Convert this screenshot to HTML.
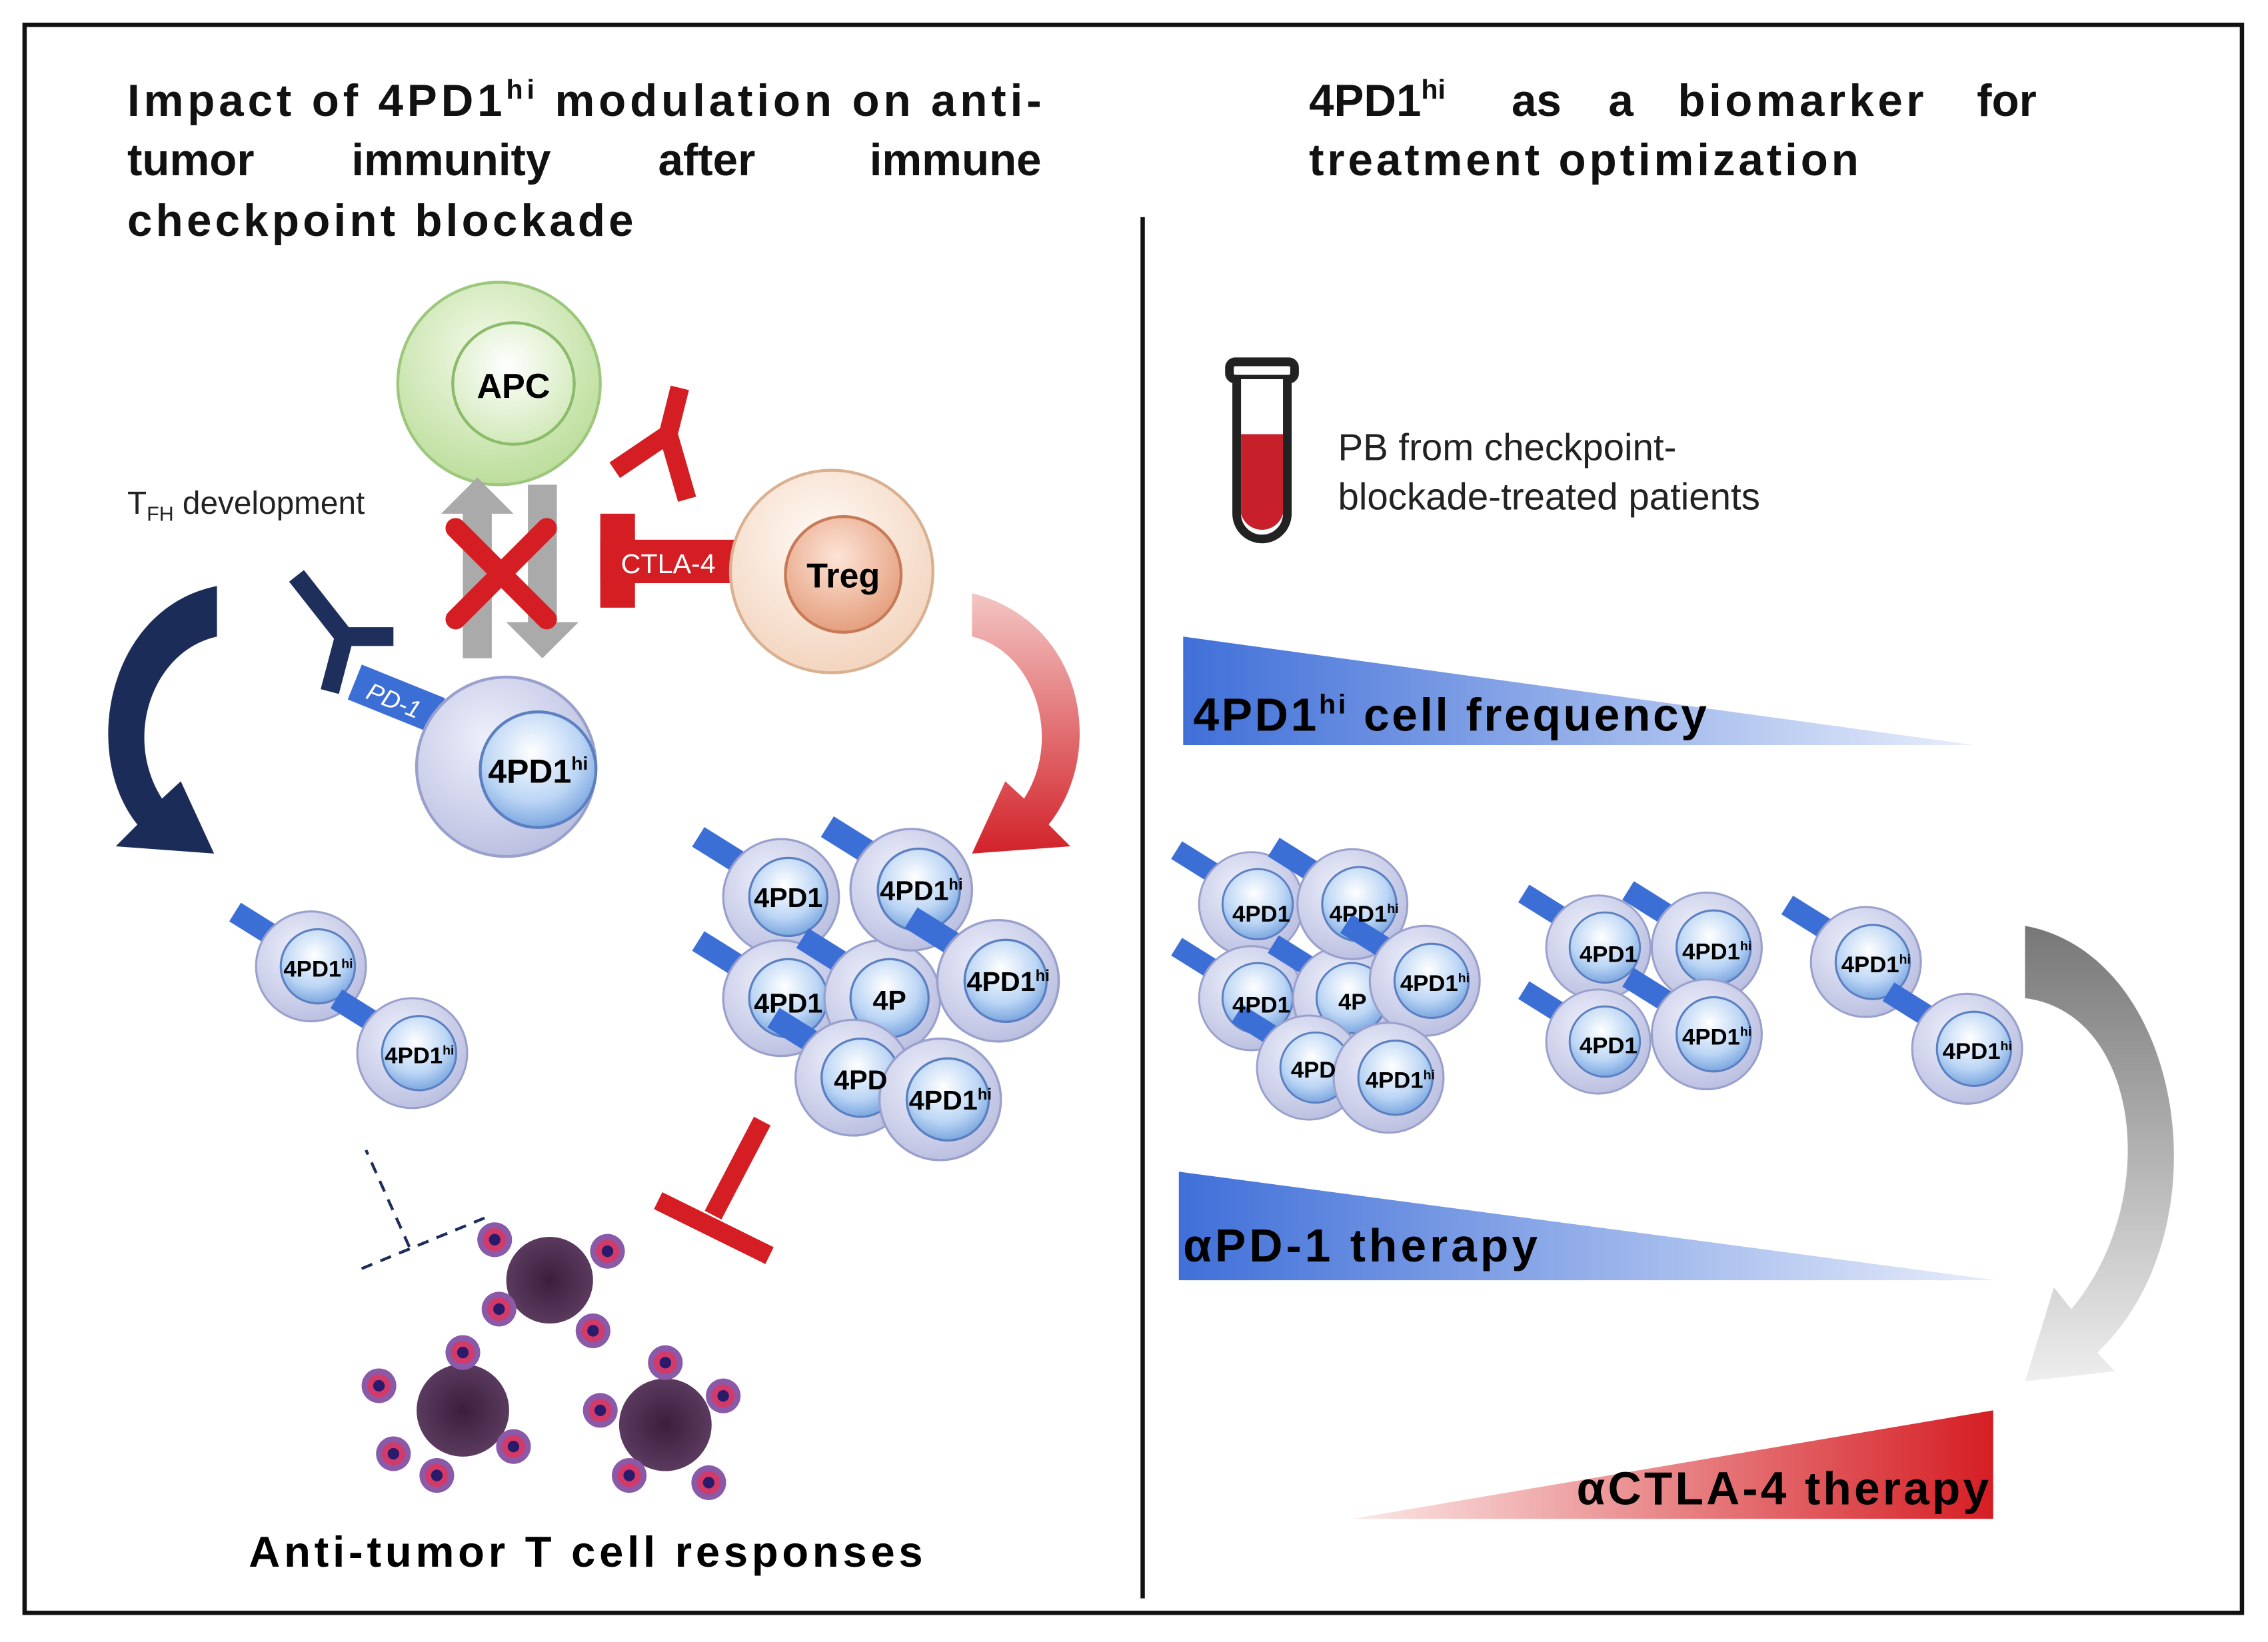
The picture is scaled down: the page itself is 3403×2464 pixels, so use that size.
<!DOCTYPE html>
<html><head><meta charset="utf-8"><style>
html,body{margin:0;padding:0;background:#fff}
svg{display:block}
text{font-family:"Liberation Sans",sans-serif}
</style></head><body>
<svg width="3403" height="2464" viewBox="0 0 1568 1135" xmlns="http://www.w3.org/2000/svg">
<defs>
<radialGradient id="gOut" cx="40%" cy="35%" r="70%"><stop offset="0" stop-color="#eef0fb"/><stop offset="1" stop-color="#b9bee0"/></radialGradient>
<radialGradient id="gIn" cx="45%" cy="35%" r="70%"><stop offset="0" stop-color="#ffffff"/><stop offset="0.6" stop-color="#bcd6f5"/><stop offset="1" stop-color="#6f9edc"/></radialGradient>
<radialGradient id="gApc" cx="45%" cy="35%" r="70%"><stop offset="0" stop-color="#f4faea"/><stop offset="1" stop-color="#b8dc96"/></radialGradient>
<radialGradient id="gApcIn" cx="45%" cy="35%" r="70%"><stop offset="0" stop-color="#ffffff"/><stop offset="1" stop-color="#cfe8b6"/></radialGradient>
<radialGradient id="gTreg" cx="45%" cy="35%" r="70%"><stop offset="0" stop-color="#fffaf5"/><stop offset="1" stop-color="#f2d2bb"/></radialGradient>
<radialGradient id="gTregIn" cx="45%" cy="35%" r="70%"><stop offset="0" stop-color="#fde4d6"/><stop offset="1" stop-color="#e39a78"/></radialGradient>
<linearGradient id="gBlue" x1="0" x2="1"><stop offset="0" stop-color="#3f6fd8"/><stop offset="1" stop-color="#e8eefb"/></linearGradient>
<linearGradient id="gRed" x1="0" x2="1"><stop offset="0" stop-color="#fbe9e7"/><stop offset="1" stop-color="#d51e24"/></linearGradient>
<linearGradient id="gRedArr" x1="0" x2="0" y1="0" y2="1"><stop offset="0" stop-color="#f3c6c3"/><stop offset="1" stop-color="#d2222a"/></linearGradient>
<linearGradient id="gGray" x1="0" x2="0" y1="0" y2="1"><stop offset="0" stop-color="#777"/><stop offset="1" stop-color="#eee"/></linearGradient>
<radialGradient id="gTum" cx="50%" cy="50%" r="50%"><stop offset="0" stop-color="#3a1f3c"/><stop offset="1" stop-color="#5a3a5e"/></radialGradient>
<g id="cell"><circle r="40" fill="url(#gOut)" stroke="#9aa0cc" stroke-width="1.5"/><circle cx="5" r="27" fill="url(#gIn)" stroke="#5b7fc0" stroke-width="1.5"/></g>
<g id="tab"><rect x="-18" y="-8" width="36" height="16" fill="#3b6fd6" transform="rotate(32)"/></g>
<g id="tcell"><circle r="12" fill="#8a5aa8"/><circle r="8" fill="#d23a6a"/><circle r="4" fill="#2a1a6a"/></g>
</defs>
<rect x="17" y="17" width="1533" height="1098" fill="#fff" stroke="#111" stroke-width="3"/>
<line x1="790" y1="150" x2="790" y2="1105" stroke="#111" stroke-width="3"/>

<g font-weight="bold" font-size="31" fill="#111">
<text x="88" y="80" textLength="632" lengthAdjust="spacing">Impact of 4PD1<tspan font-size="19" dy="-12">hi</tspan><tspan dy="12"> modulation on anti-</tspan></text>
<text x="88" y="121">tumor</text><text x="243" y="121">immunity</text><text x="455" y="121">after</text><text x="720" y="121" text-anchor="end">immune</text>
<text x="88" y="163" textLength="350" lengthAdjust="spacing">checkpoint blockade</text>
<text x="905" y="80">4PD1<tspan font-size="19" dy="-12">hi</tspan></text><text x="1045" y="80">as</text><text x="1112" y="80">a</text><text x="1160" y="80" textLength="170" lengthAdjust="spacing">biomarker</text><text x="1408" y="80" text-anchor="end">for</text>
<text x="905" y="121" textLength="380" lengthAdjust="spacing">treatment optimization</text>
</g>

<!-- APC -->
<circle cx="345" cy="265" r="70" fill="url(#gApc)" stroke="#9cc77c" stroke-width="2"/>
<circle cx="355" cy="265" r="42" fill="url(#gApcIn)" stroke="#8cbb6a" stroke-width="2"/>
<text x="355" y="275" font-size="24" font-weight="bold" text-anchor="middle">APC</text>
<polygon points="330,330 305,355 320,355 320,455 340,455 340,355 355,355" fill="#aaa"/>
<polygon points="375,455 350,430 365,430 365,335 385,335 385,430 400,430" fill="#aaa"/>
<g stroke="#d51e24" stroke-width="14" stroke-linecap="round"><line x1="315" y1="365" x2="378" y2="428"/><line x1="378" y1="365" x2="315" y2="428"/></g>
<g stroke="#d51e24" stroke-width="13" fill="none"><path d="M475,345 L462,300 L425,325"/><path d="M462,300 L470,268"/></g>
<rect x="415" y="355" width="24" height="65" fill="#d51e24"/>
<rect x="415" y="373" width="95" height="30" fill="#d51e24"/>
<text x="462" y="396" font-size="19" fill="#fff" text-anchor="middle">CTLA-4</text>
<circle cx="575" cy="395" r="70" fill="url(#gTreg)" stroke="#d9b090" stroke-width="2"/>
<circle cx="583" cy="397" r="40" fill="url(#gTregIn)" stroke="#c77a58" stroke-width="2"/>
<text x="583" y="406" font-size="24" font-weight="bold" text-anchor="middle">Treg</text>
<text x="88" y="355" font-size="22" fill="#222">T<tspan font-size="14" dy="5">FH</tspan><tspan dy="-5"> development</tspan></text>
<g stroke="#1f2f5c" stroke-width="13" fill="none"><path d="M205,398 L238,440 L272,440"/><path d="M238,440 L228,478"/></g>
<rect x="243" y="470" width="62" height="26" fill="#3b6fd6" transform="rotate(22 274 483)"/>
<text x="272" y="490" font-size="17" fill="#fff" font-style="italic" transform="rotate(22 272 485)" text-anchor="middle">PD-1</text>
<circle cx="350" cy="530" r="62" fill="url(#gOut)" stroke="#9aa0cc" stroke-width="2"/>
<circle cx="372" cy="532" r="40" fill="url(#gIn)" stroke="#5b7fc0" stroke-width="2"/>
<text x="372" y="541" font-size="23" font-weight="bold" text-anchor="middle">4PD1<tspan font-size="13" dy="-9">hi</tspan></text>
<path d="M150,405 C75,420 55,520 95,570 L80,585 L148,590 L125,540 L112,552 C85,510 105,450 150,440 Z" fill="#1c2c58"/>
<path d="M672,410 C750,430 765,520 725,570 L740,585 L672,590 L695,540 L708,552 C735,510 715,450 672,440 Z" fill="url(#gRedArr)"/>
<g transform="translate(215,668) scale(0.95)"><use href="#tab" x="-40" y="-30"/><use href="#cell"/></g>
<text x="220" y="675" font-size="16" font-weight="bold" text-anchor="middle">4PD1<tspan font-size="9" dy="-6">hi</tspan></text>
<g transform="translate(285,728) scale(0.95)"><use href="#tab" x="-40" y="-30"/><use href="#cell"/></g>
<text x="290" y="735" font-size="16" font-weight="bold" text-anchor="middle">4PD1<tspan font-size="9" dy="-6">hi</tspan></text>
<g>
<g transform="translate(540,620)"><use href="#tab" x="-42" y="-32"/><use href="#cell"/></g>
<g transform="translate(540,690)"><use href="#tab" x="-42" y="-30"/><use href="#cell"/></g>
<g transform="translate(610,690)"><use href="#tab" x="-40" y="-32"/><use href="#cell"/></g>
<g transform="translate(630,615) scale(1.05)"><use href="#tab" x="-40" y="-32"/><use href="#cell"/></g>
<g transform="translate(690,678) scale(1.05)"><use href="#tab" x="-42" y="-32"/><use href="#cell"/></g>
<g transform="translate(590,745)"><use href="#tab" x="-40" y="-32"/><use href="#cell"/></g>
<g transform="translate(650,760) scale(1.05)"><use href="#cell"/></g>
</g>
<g font-size="19" font-weight="bold" text-anchor="middle">
<text x="545" y="627">4PD1</text><text x="637" y="622">4PD1<tspan font-size="11" dy="-7">hi</tspan></text>
<text x="545" y="700">4PD1</text><text x="615" y="698">4P</text>
<text x="697" y="685">4PD1<tspan font-size="11" dy="-7">hi</tspan></text>
<text x="595" y="753">4PD</text><text x="657" y="767">4PD1<tspan font-size="11" dy="-7">hi</tspan></text>
</g>
<line x1="527" y1="775" x2="493" y2="840" stroke="#d51e24" stroke-width="13"/>
<line x1="455" y1="830" x2="532" y2="868" stroke="#d51e24" stroke-width="13"/>
<g stroke="#1f2f5c" stroke-width="2" stroke-dasharray="8,6"><line x1="250" y1="877" x2="335" y2="842"/><line x1="283" y1="862" x2="253" y2="795"/></g>
<g>
<circle cx="380" cy="885" r="30" fill="url(#gTum)"/><circle cx="320" cy="975" r="32" fill="url(#gTum)"/><circle cx="460" cy="985" r="32" fill="url(#gTum)"/>
<use href="#tcell" x="342" y="857"/><use href="#tcell" x="420" y="865"/><use href="#tcell" x="410" y="920"/><use href="#tcell" x="345" y="905"/>
<use href="#tcell" x="262" y="958"/><use href="#tcell" x="320" y="935"/><use href="#tcell" x="355" y="1000"/><use href="#tcell" x="302" y="1020"/><use href="#tcell" x="272" y="1005"/>
<use href="#tcell" x="415" y="975"/><use href="#tcell" x="460" y="942"/><use href="#tcell" x="500" y="965"/><use href="#tcell" x="490" y="1025"/><use href="#tcell" x="435" y="1020"/>
</g>
<text x="172" y="1083" font-size="30" font-weight="bold" textLength="466" lengthAdjust="spacing">Anti-tumor T cell responses</text>

<rect x="850" y="250" width="45" height="12" rx="4" fill="#fff" stroke="#222" stroke-width="6"/>
<path d="M855,262 L855,355 A17,17 0 0 0 890,355 L890,262" fill="#fff" stroke="#222" stroke-width="6"/>
<path d="M858,300 L887,300 L887,355 A15,15 0 0 1 858,355 Z" fill="#c8202a"/>
<text x="925" y="318" font-size="26" fill="#222">PB from checkpoint-</text>
<text x="925" y="352" font-size="26" fill="#222">blockade-treated patients</text>

<polygon points="818,440 1365,515 818,515" fill="url(#gBlue)"/>
<text x="825" y="505" font-size="32" font-weight="bold" textLength="355" lengthAdjust="spacing">4PD1<tspan font-size="19" dy="-12">hi</tspan><tspan dy="12"> cell frequency</tspan></text>

<g>
<g transform="translate(865,625) scale(0.9)"><use href="#tab" x="-42" y="-32"/><use href="#cell"/></g>
<g transform="translate(865,690) scale(0.9)"><use href="#tab" x="-42" y="-30"/><use href="#cell"/></g>
<g transform="translate(930,690) scale(0.9)"><use href="#tab" x="-40" y="-32"/><use href="#cell"/></g>
<g transform="translate(935,625) scale(0.95)"><use href="#tab" x="-42" y="-32"/><use href="#cell"/></g>
<g transform="translate(985,678) scale(0.95)"><use href="#tab" x="-42" y="-32"/><use href="#cell"/></g>
<g transform="translate(905,738) scale(0.9)"><use href="#tab" x="-40" y="-32"/><use href="#cell"/></g>
<g transform="translate(960,745) scale(0.95)"><use href="#cell"/></g>
<g transform="translate(1105,655) scale(0.9)"><use href="#tab" x="-42" y="-32"/><use href="#cell"/></g>
<g transform="translate(1105,720) scale(0.9)"><use href="#tab" x="-42" y="-30"/><use href="#cell"/></g>
<g transform="translate(1180,655) scale(0.95)"><use href="#tab" x="-42" y="-32"/><use href="#cell"/></g>
<g transform="translate(1180,715) scale(0.95)"><use href="#tab" x="-42" y="-32"/><use href="#cell"/></g>
<g transform="translate(1290,665) scale(0.95)"><use href="#tab" x="-42" y="-32"/><use href="#cell"/></g>
<g transform="translate(1360,725) scale(0.95)"><use href="#tab" x="-42" y="-32"/><use href="#cell"/></g>
</g>
<g font-size="16" font-weight="bold" text-anchor="middle">
<text x="872" y="637">4PD1</text><text x="943" y="637">4PD1<tspan font-size="9" dy="-6">hi</tspan></text>
<text x="872" y="700">4PD1</text><text x="935" y="698">4P</text><text x="992" y="685">4PD1<tspan font-size="9" dy="-6">hi</tspan></text>
<text x="908" y="745">4PD</text><text x="968" y="752">4PD1<tspan font-size="9" dy="-6">hi</tspan></text>
<text x="1112" y="665">4PD1</text><text x="1187" y="663">4PD1<tspan font-size="9" dy="-6">hi</tspan></text>
<text x="1112" y="728">4PD1</text><text x="1187" y="722">4PD1<tspan font-size="9" dy="-6">hi</tspan></text>
<text x="1297" y="672">4PD1<tspan font-size="9" dy="-6">hi</tspan></text><text x="1367" y="732">4PD1<tspan font-size="9" dy="-6">hi</tspan></text>
</g>
<path d="M1400,640 C1510,660 1540,850 1450,935 L1462,948 L1400,955 L1420,890 L1432,905 C1495,830 1480,700 1400,690 Z" fill="url(#gGray)"/>

<polygon points="815,810 1380,885 815,885" fill="url(#gBlue)"/>
<text x="818" y="872" font-size="32" font-weight="bold" textLength="245" lengthAdjust="spacing">αPD-1 therapy</text>
<polygon points="935,1050 1378,975 1378,1050" fill="url(#gRed)"/>
<text x="1090" y="1040" font-size="32" font-weight="bold" textLength="285" lengthAdjust="spacing">αCTLA-4 therapy</text>
</svg>
</body></html>
